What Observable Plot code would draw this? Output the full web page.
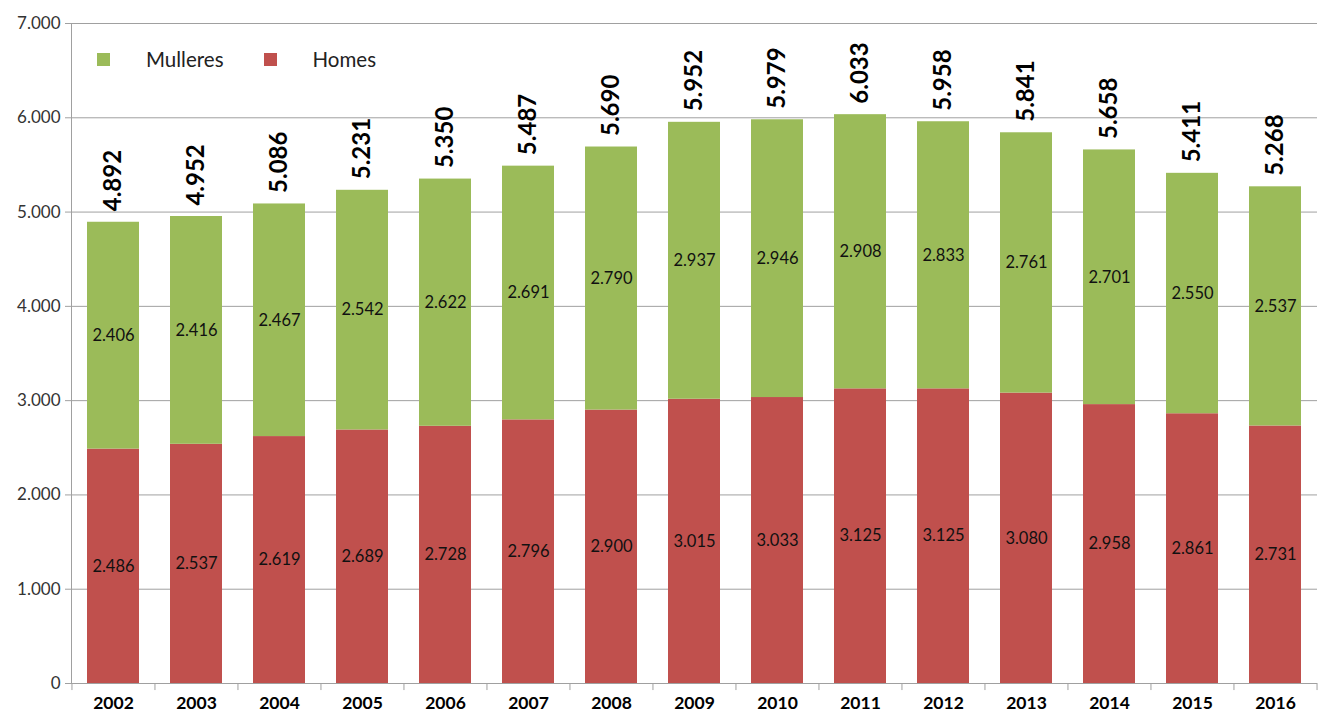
<!DOCTYPE html>
<html>
<head>
<meta charset="utf-8">
<script src="https://cdn.jsdelivr.net/npm/d3@7"></script>
<script src="https://cdn.jsdelivr.net/npm/@observablehq/plot@0.6"></script>
<style>
  html, body { margin: 0; padding: 0; background: #fff; }
  #wrap { position: relative; width: 1320px; height: 717px; font-family: Lato, "Open Sans", sans-serif; }
  #legend { position: absolute; left: 97px; top: 47px; font-size: 20.5px; color: #222; display: flex; align-items: center; }
  #legend .sw { display: inline-block; width: 13px; height: 13px; margin-right: 36px; }
  #legend .lbl { margin-right: 40px; }
</style>
</head>
<body>
<div id="wrap">
  <div id="chart"></div>
  <div id="legend"></div>
</div>
<script>
const years = ["2002","2003","2004","2005","2006","2007","2008","2009","2010","2011","2012","2013","2014","2015","2016"];
const homes = [2486,2537,2619,2689,2728,2796,2900,3015,3033,3125,3125,3080,2958,2861,2731];
const mulleres = [2406,2416,2467,2542,2622,2691,2790,2937,2946,2908,2833,2761,2701,2550,2537];
const totals = [4892,4952,5086,5231,5350,5487,5690,5952,5979,6033,5958,5841,5658,5411,5268];
const yTicks = [0,1000,2000,3000,4000,5000,6000,7000];
const seriesNames = ["Homes","Mulleres"];
const colors = ["#C0504D","#9BBB59"];

const fmt = d => d3.format(",")(d).replace(/,/g, ".");

const rows = [];
years.forEach((y, i) => {
  rows.push({year: y, serie: "Homes", value: homes[i]});
  rows.push({year: y, serie: "Mulleres", value: mulleres[i]});
});
const totalRows = years.map((y, i) => ({year: y, total: totals[i]}));

const W = 1320, H = 717;
const mL = 71, mR = 3, mT = 23, mB = 34;
const band = (W - mL - mR) / years.length;

const chart = Plot.plot({
  width: W,
  height: H,
  marginLeft: mL,
  marginRight: mR,
  marginTop: mT,
  marginBottom: mB,
  style: {fontFamily: "Lato, 'Open Sans', sans-serif", background: "#fff"},
  x: {domain: years, paddingInner: 0.37, paddingOuter: 0.185, label: null},
  y: {domain: [0, 7000], label: null},
  color: {domain: seriesNames, range: colors},
  marks: [
    Plot.gridY(yTicks, {stroke: "#a0a0a0", strokeOpacity: 1}),
    Plot.barY(rows, Plot.stackY({x: "year", y: "value", fill: "serie", order: seriesNames})),
    Plot.text(rows, Plot.stackY({x: "year", y: "value", z: "serie", order: seriesNames, text: d => fmt(d.value), fontSize: 16.5, fill: "#111"})),
    Plot.text(totalRows, {x: "year", y: "total", text: d => fmt(d.total), rotate: -90, textAnchor: "start", lineAnchor: "middle", dy: -11, fontSize: 24, fontWeight: "bold", fill: "#000"}),
    Plot.ruleY([0], {stroke: "#a0a0a0"}),
    Plot.ruleX(years, {x: d => d, y1: 0, y2: -75, dx: -band / 2, stroke: "#a0a0a0"}),
    Plot.ruleX([years[years.length - 1]], {x: d => d, y1: 0, y2: -75, dx: band / 2, stroke: "#a0a0a0"}),
    Plot.axisY(yTicks, {tickFormat: fmt, tickSize: 6, tickPadding: 5, fontSize: 17, fill: "#333", stroke: "#a0a0a0", strokeOpacity: 1}),
    Plot.axisX({tickSize: 0, tickPadding: 13, fontSize: 17.5, fontWeight: "bold", fill: "#000"})
  ]
});
document.getElementById("chart").appendChild(chart);

// vertical axis line
d3.select(chart).append("line")
  .attr("x1", mL + 0.5).attr("x2", mL + 0.5)
  .attr("y1", mT).attr("y2", H - mB)
  .attr("stroke", "#a0a0a0");

const legend = document.getElementById("legend");
[["Mulleres", colors[1]], ["Homes", colors[0]]].forEach(([name, c]) => {
  const sw = document.createElement("span");
  sw.className = "sw"; sw.style.background = c;
  const lb = document.createElement("span");
  lb.className = "lbl"; lb.textContent = name;
  legend.appendChild(sw); legend.appendChild(lb);
});
</script>
</body>
</html>
